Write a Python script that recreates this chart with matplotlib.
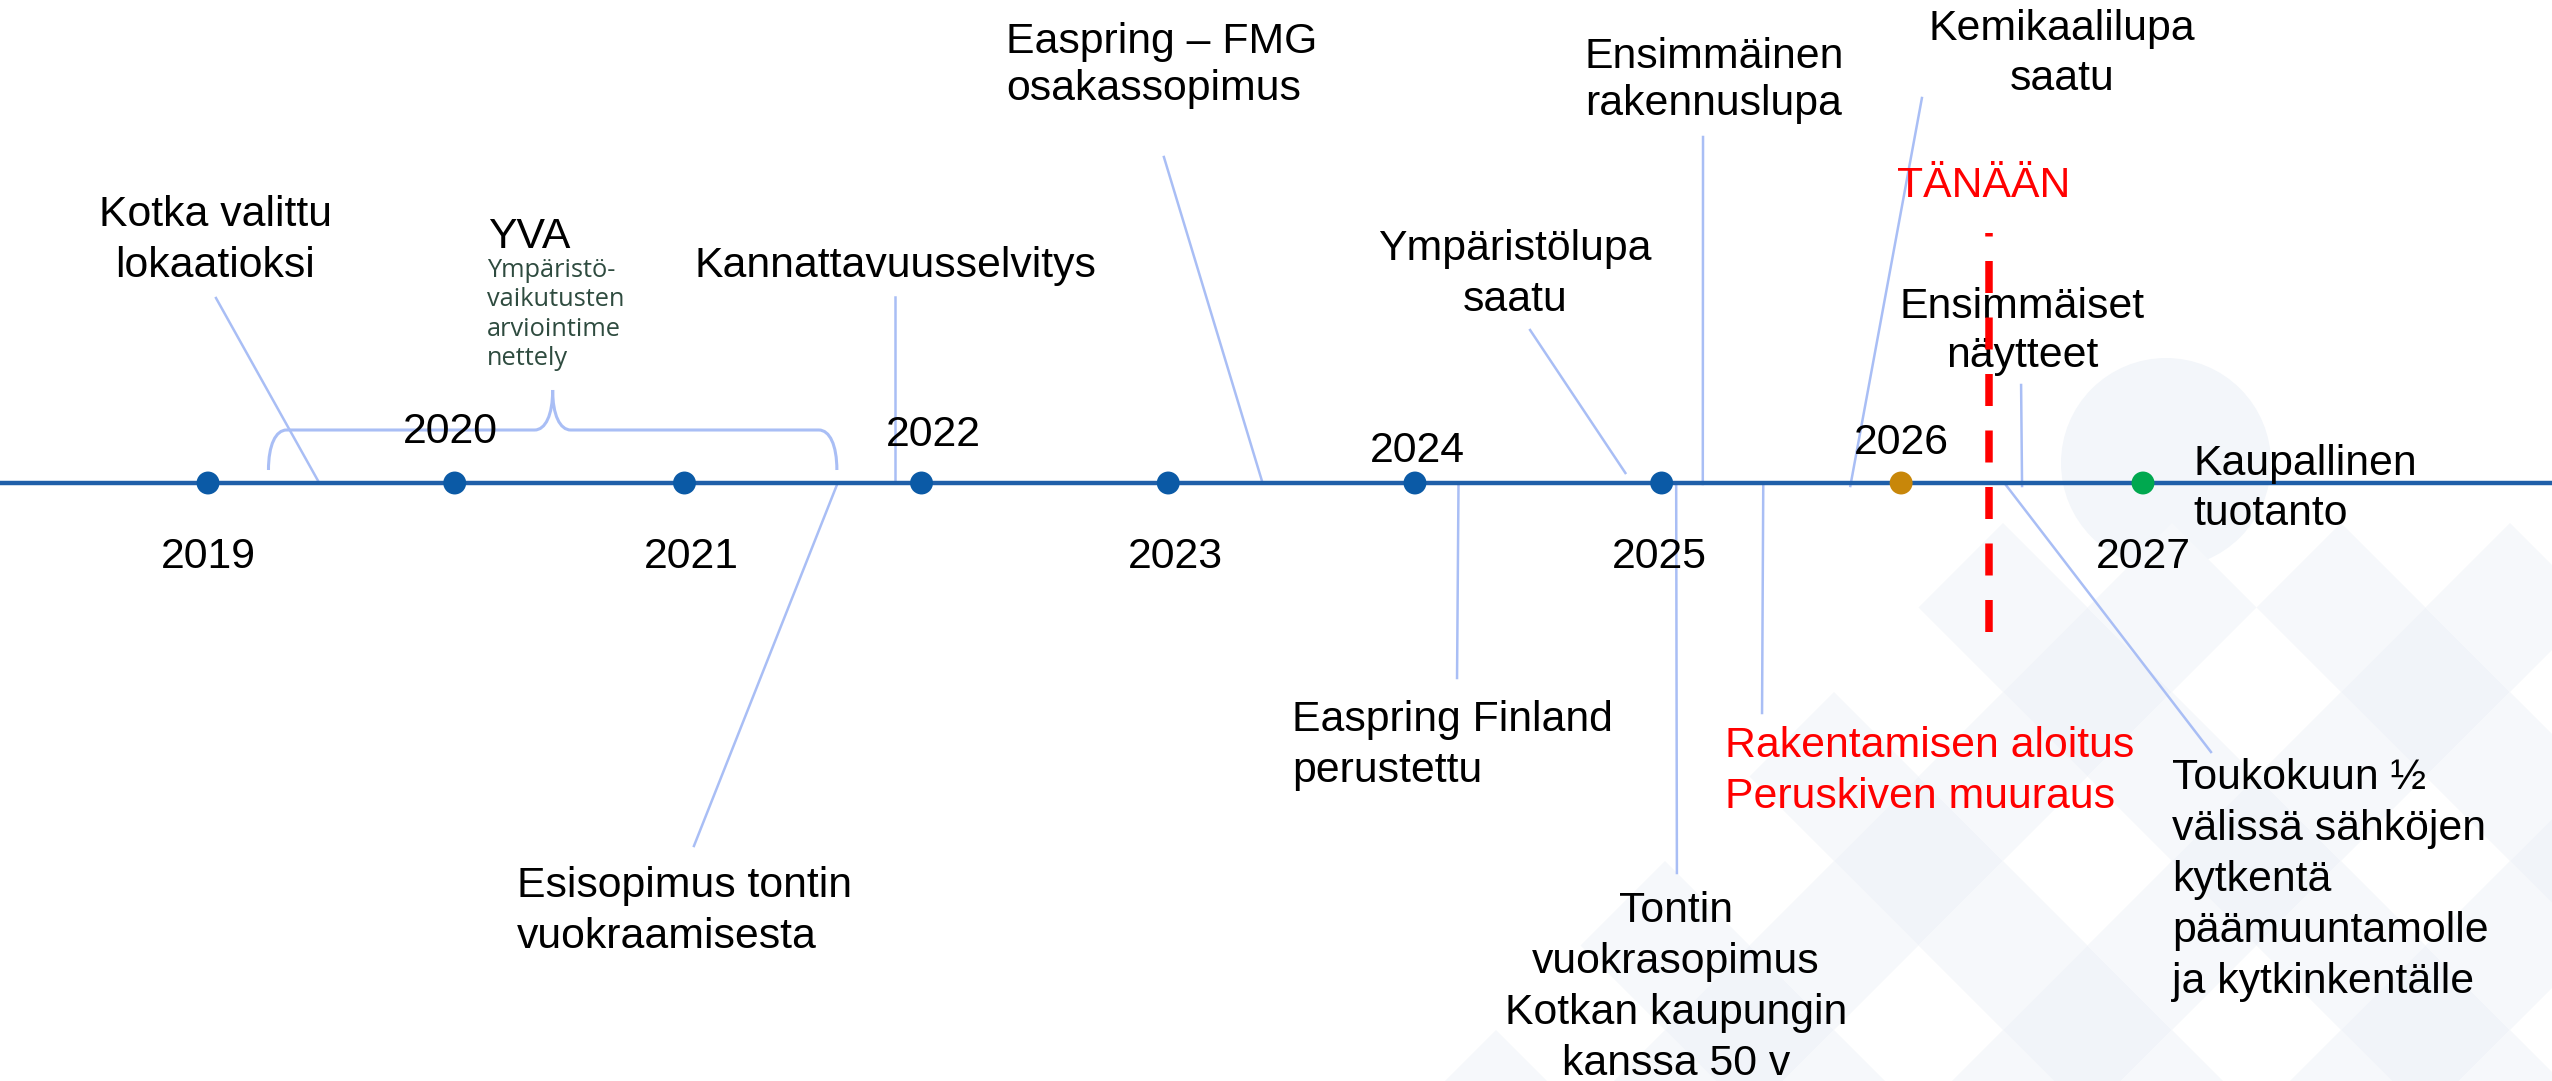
import matplotlib
matplotlib.use("Agg")
import matplotlib.pyplot as plt
from matplotlib.path import Path
from matplotlib.patches import PathPatch, Polygon, Circle

plt.rcParams['font.family'] = ['Liberation Sans', 'DejaVu Sans']

# aikajanan vuodet ja pisteet
years = [2019, 2020, 2021, 2022, 2023, 2024, 2025, 2026, 2027]
year_pos = [2019.0, 2020.02, 2020.97, 2021.95, 2022.97, 2023.99, 2025.01, 2026.0, 2027.0]

# tapahtumat (teksti + ajankohta aikajanalla)
event_text = [
    "Kotka valittu\nlokaatioksi",
    "Esisopimus tontin\nvuokraamisesta",
    "Kannattavuusselvitys",
    "Easpring – FMG\nosakassopimus",
    "Easpring Finland\nperustettu",
    "Ympäristölupa\nsaatu",
    "Tontin\nvuokrasopimus\nKotkan kaupungin\nkanssa 50 v",
    "Ensimmäinen\nrakennuslupa",
    "Rakentamisen aloitus\nPeruskiven muuraus",
    "Kemikaalilupa\nsaatu",
    "Toukokuun ½\nvälissä sähköjen\nkytkentä\npäämuuntamolle\nja kytkinkentälle",
    "Ensimmäiset\nnäytteet",
]
event_date = [2019.46, 2021.60, 2021.84, 2023.36, 2024.17, 2024.86,
              2025.07, 2025.18, 2025.43, 2025.79, 2026.43, 2026.50]

yva_span = (2019.25, 2021.60)
yva_title = "YVA"
yva_sub = "Ympäristö-\nvaikutusten\narviointime\nnettely"
today = 2026.363
today_text = "TÄNÄÄN"
final_text = "Kaupallinen\ntuotanto"

# asettelu: (viivan alku-rivi, viivan pää x, pää-rivi, tekstin x, 1. rivin baseline, riviväli, tasaus, väri)
layout = [
    (483, 2019.033, 298, 2019.029, 226, 51, 'center', 'black'),
    (485, 2021.009, 846, 2020.278, 897, 51, 'left', 'black'),
    (483, 2021.840, 297, 2021.013, 277, 51, 'left', 'black'),
    (483, 2022.952, 157, 2022.299, 53, 47, 'left', 'black'),
    (486, 2024.164, 678, 2023.482, 731, 51, 'left', 'black'),
    (473, 2024.466, 330, 2024.404, 260, 51, 'center', 'black'),
    (486, 2025.073, 873, 2025.069, 922, 51, 'center', 'black'),
    (484, 2025.181, 137, 2025.226, 68, 47, 'center', 'black'),
    (486, 2025.425, 713, 2025.272, 757, 51, 'left', 'red'),
    (486, 2026.086, 98, 2026.665, 40, 50, 'center', 'black'),
    (484, 2027.281, 752, 2027.120, 789, 51, 'left', 'black'),
    (486, 2026.496, 385, 2026.500, 318, 49, 'center', 'black'),
]

LINE_ROW = 483
FS = 30.8
leader_c = '#a9bef5'

fig = plt.figure(figsize=(25.52, 10.81), dpi=100)

# taustakuvio
bg = fig.add_axes([0, 0, 1, 1], zorder=0)
bg.set_xlim(0, 2552)
bg.set_ylim(1081, 0)
bg.axis('off')
bg.add_patch(Circle((2166, 463), 105, facecolor='#f3f6fa', edgecolor='none'))
h = 84.5
for m in range(-8, 6):
    for n in range(0, 10):
        u = 1395.5 + 169 * m
        v = 2610.5 + 169 * n
        cx, cy = (u + v) / 2, (v - u) / 2
        if cy - h < 515 or cy - h > 1081 or cx + h < 0 or cx - h > 2552:
            continue
        level = (m % 2 == 0) + (n % 2 == 1)
        if level == 0:
            continue
        col = '#f6f8fb' if level == 1 else '#f1f4f9'
        bg.add_patch(Polygon([(cx, cy - h), (cx + h, cy), (cx, cy + h), (cx - h, cy)],
                             closed=True, facecolor=col, edgecolor='none'))

ax = fig.add_axes([0, 0, 1, 1], zorder=1)
ax.patch.set_alpha(0)
ax.set_xlim(2018.14005, 2028.69096)
ax.set_ylim(1081, 0)
ax.axis('off')

# aikajana
ax.axhline(LINE_ROW, color='#1f5fa9', lw=3.2, zorder=2)

# tapahtumat
for txt, d, (r0, xe, re, tx, base, gap, ha, c) in zip(event_text, event_date, layout):
    ax.plot([d, xe], [r0, re], color=leader_c, lw=1.8, zorder=1)
    for k, line in enumerate(txt.split('\n')):
        ax.text(tx, base + k * gap, line, ha=ha, va='baseline', fontsize=FS, color=c, zorder=3)

# vuosipisteet
dot_colors = ['#0b5aa6'] * 7 + ['#c8870a', '#00a84f']
ax.scatter(year_pos, [LINE_ROW] * len(year_pos), s=16.5 ** 2, c=dot_colors, zorder=4, linewidths=0)
for i, y in enumerate(years):
    row = 568 if i % 2 == 0 else [443, 446, 462, 454][i // 2]
    ax.text(y, row, str(y), ha='center', va='baseline', fontsize=FS, zorder=3)

# YVA-sulje
x0, x1 = yva_span
tip = (x0 + x1) / 2
c = 0.075
verts = [(x0, 470), (x0, 445), (x0 + 0.03, 430), (x0 + c, 430),
         (tip - c, 430),
         (tip - 0.03, 430), (tip, 415), (tip, 390),
         (tip, 415), (tip + 0.03, 430), (tip + c, 430),
         (x1 - c, 430),
         (x1 - 0.03, 430), (x1, 445), (x1, 470)]
codes = [Path.MOVETO, Path.CURVE4, Path.CURVE4, Path.CURVE4,
         Path.LINETO,
         Path.CURVE4, Path.CURVE4, Path.CURVE4,
         Path.CURVE4, Path.CURVE4, Path.CURVE4,
         Path.LINETO,
         Path.CURVE4, Path.CURVE4, Path.CURVE4]
ax.add_patch(PathPatch(Path(verts, codes), facecolor='none', edgecolor=leader_c, lw=2.2, zorder=1))
ax.text(2020.158, 248, yva_title, ha='left', va='baseline', fontsize=FS, zorder=3)
for k, line in enumerate(yva_sub.split('\n')):
    ax.text(2020.153, 277 + k * 29.3, line, ha='left', va='baseline', fontsize=18.3,
            family=['Open Sans', 'DejaVu Sans'], color='#2e4b3f', zorder=3)

# kaupallinen tuotanto
for k, line in enumerate(final_text.split('\n')):
    ax.text(2027.207, 475 + k * 50, line, ha='left', va='baseline', fontsize=FS, zorder=3)

# tänään
ax.plot([today, today], [632, 233], color='red', lw=5.4, dashes=(32 / 7.5, 24.5 / 7.5), zorder=5)
ax.text(2026.343, 197, today_text, ha='center', va='baseline', fontsize=FS, color='red', zorder=3)

fig.savefig('out.png', dpi=100)
